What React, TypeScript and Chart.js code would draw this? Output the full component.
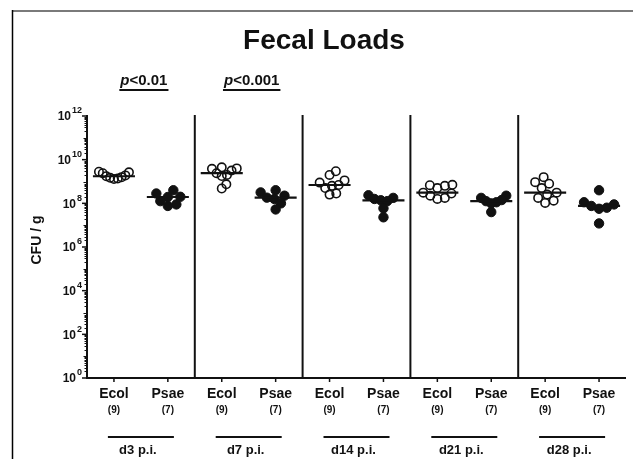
import React, { useEffect, useRef } from 'react';
import { Chart, registerables } from 'chart.js';

Chart.register(...registerables);

// ---------- data ----------
const days = ['d3 p.i.', 'd7 p.i.', 'd14 p.i.', 'd21 p.i.', 'd28 p.i.'];
const strains = ['Ecol', 'Psae'];
const strainN = ['(9)', '(7)'];
const yTickExponents = [0, 2, 4, 6, 8, 10, 12];

// log10(CFU / g) per animal
const ecolD3 = [9.45, 9.42, 9.38, 9.28, 9.24, 9.2, 9.17, 9.14, 9.12];
const ecolD7 = [9.65, 9.6, 9.58, 9.5, 9.38, 9.3, 9.25, 8.87, 8.68];
const ecolD14 = [9.47, 9.3, 9.05, 8.95, 8.84, 8.8, 8.7, 8.45, 8.4];
const ecolD21 = [8.85, 8.83, 8.8, 8.7, 8.49, 8.45, 8.35, 8.25, 8.2];
const ecolD28 = [9.2, 8.97, 8.9, 8.7, 8.49, 8.4, 8.25, 8.12, 8.02];

const psaeD3 = [8.6, 8.45, 8.3, 8.29, 8.1, 7.95, 7.88];
const psaeD7 = [8.6, 8.5, 8.35, 8.26, 8.2, 8.0, 7.72];
const psaeD14 = [8.37, 8.25, 8.2, 8.14, 8.1, 7.77, 7.36];
const psaeD21 = [8.35, 8.25, 8.15, 8.1, 8.05, 8.0, 7.6];
const psaeD28 = [8.6, 8.05, 7.95, 7.88, 7.8, 7.75, 7.08];

const ecolSeries = [ecolD3, ecolD7, ecolD14, ecolD21, ecolD28];
const psaeSeries = [psaeD3, psaeD7, psaeD14, psaeD21, psaeD28];

const pDays = [0, 1];
const pTexts = ['<0.01', '<0.001'];

// ---------- layout ----------
const W = 633;
const H = 459;
const PAD = { left: 87, right: 7, top: 116, bottom: 81 };
const PX_PER_CAT = (W - PAD.left - PAD.right) / 10;
const PX_PER_DEC = (H - PAD.top - PAD.bottom) / 12;
const FONT = '"Liberation Sans", Arial, Helvetica, sans-serif';
const INK = '#111111';

function median(a: number[]): number {
  const s = [...a].sort((x, y) => x - y);
  const m = Math.floor(s.length / 2);
  return s.length % 2 ? s[m] : (s[m - 1] + s[m]) / 2;
}

// simple beeswarm: horizontal offsets (in category units), squeezed to a maximum half-width
function swarmOffsets(vals: number[]): number[] {
  const minD = 8.5;
  const maxHalf = 15;
  const order = vals.map((_, i) => i).sort((a, b) => vals[a] - vals[b]);
  const placed: { x: number; y: number }[] = [];
  const px = new Array(vals.length).fill(0);
  for (const i of order) {
    const y = vals[i] * PX_PER_DEC;
    let x = 0;
    for (let k = 0; k < 400; k++) {
      const c = (k % 2 === 1 ? 1 : -1) * Math.ceil(k / 2) * 0.5;
      if (placed.every((p) => (p.x - c) ** 2 + (p.y - y) ** 2 >= minD * minD)) {
        x = c;
        break;
      }
    }
    placed.push({ x, y });
    px[i] = x;
  }
  const widest = Math.max(...px.map(Math.abs));
  const squeeze = widest > maxHalf ? maxHalf / widest : 1;
  return px.map((x) => (x * squeeze) / PX_PER_CAT);
}

function pointsFor(series: number[][], strainIdx: number) {
  const pts: { x: number; y: number }[] = [];
  series.forEach((vals, d) => {
    const offs = swarmOffsets(vals);
    const cx = d * 2 + strainIdx;
    vals.forEach((v, i) => pts.push({ x: cx + offs[i], y: Math.pow(10, v) }));
  });
  return pts;
}

const decorPlugin = {
  id: 'decor',
  beforeDraw(chart: any) {
    const ctx = chart.ctx;
    ctx.save();
    ctx.fillStyle = '#ffffff';
    ctx.fillRect(0, 0, chart.width, chart.height);
    ctx.restore();
  },
  afterDraw(chart: any) {
    const ctx: CanvasRenderingContext2D = chart.ctx;
    const xs = chart.scales.x;
    const ys = chart.scales.y;
    const top = ys.getPixelForValue(1e12);
    const bottom = ys.getPixelForValue(1);
    const left = xs.getPixelForValue(-0.5);
    const right = xs.getPixelForValue(9.5);
    ctx.save();

    // page frame
    ctx.strokeStyle = '#7a7a7a';
    ctx.lineWidth = 2;
    ctx.beginPath();
    ctx.moveTo(12, 11);
    ctx.lineTo(W, 11);
    ctx.stroke();
    ctx.strokeStyle = '#000';
    ctx.lineWidth = 1.5;
    ctx.beginPath();
    ctx.moveTo(12.5, 10);
    ctx.lineTo(12.5, H);
    ctx.stroke();

    ctx.fillStyle = INK;
    ctx.strokeStyle = INK;

    // title
    ctx.font = `bold 28px ${FONT}`;
    ctx.textAlign = 'center';
    ctx.textBaseline = 'middle';
    ctx.fillText('Fecal Loads', 324, 41);

    // p-values
    pDays.forEach((d, i) => {
      const cx = xs.getPixelForValue(d * 2 + 0.5) + 3;
      ctx.font = `italic bold 15px ${FONT}`;
      const pw = ctx.measureText('p').width;
      ctx.font = `bold 15px ${FONT}`;
      const rw = ctx.measureText(pTexts[i]).width;
      const x0 = cx - (pw + rw) / 2;
      ctx.textAlign = 'left';
      ctx.textBaseline = 'alphabetic';
      ctx.font = `italic bold 15px ${FONT}`;
      ctx.fillText('p', x0, 85);
      ctx.font = `bold 15px ${FONT}`;
      ctx.fillText(pTexts[i], x0 + pw, 85);
      ctx.lineWidth = 2;
      ctx.beginPath();
      ctx.moveTo(x0 - 1, 90);
      ctx.lineTo(x0 + pw + rw + 1, 90);
      ctx.stroke();
    });

    // y axis
    ctx.lineWidth = 2;
    ctx.beginPath();
    ctx.moveTo(left, top - 1);
    ctx.lineTo(left, bottom + 1);
    ctx.stroke();
    ctx.lineWidth = 1;
    for (let k = 0; k < 12; k++) {
      for (let m = 2; m <= 9; m++) {
        const y = Math.round(ys.getPixelForValue(m * Math.pow(10, k))) + 0.5;
        ctx.beginPath();
        ctx.moveTo(left - 2.5, y);
        ctx.lineTo(left, y);
        ctx.stroke();
      }
      if (k % 2 === 1) {
        const y = Math.round(ys.getPixelForValue(Math.pow(10, k))) + 0.5;
        ctx.beginPath();
        ctx.moveTo(left - 3.5, y);
        ctx.lineTo(left, y);
        ctx.stroke();
      }
    }
    ctx.lineWidth = 1.5;
    yTickExponents.forEach((e) => {
      const y = ys.getPixelForValue(Math.pow(10, e));
      ctx.beginPath();
      ctx.moveTo(left - 5, y);
      ctx.lineTo(left, y);
      ctx.stroke();
      const ex = String(e);
      ctx.font = `bold 9px ${FONT}`;
      const ew = ctx.measureText(ex).width;
      ctx.textAlign = 'right';
      ctx.textBaseline = 'middle';
      ctx.fillText(ex, left - 5, y - 5);
      ctx.font = `bold 12px ${FONT}`;
      ctx.fillText('10', left - 6 - ew, y + 1);
    });

    // y title
    ctx.save();
    ctx.translate(37, (top + bottom) / 2 - 7);
    ctx.rotate(-Math.PI / 2);
    ctx.font = `bold 14px ${FONT}`;
    ctx.textAlign = 'center';
    ctx.textBaseline = 'middle';
    ctx.fillText('CFU / g', 0, 0);
    ctx.restore();

    // x axis
    ctx.lineWidth = 2;
    ctx.beginPath();
    ctx.moveTo(left - 1, bottom);
    ctx.lineTo(right, bottom);
    ctx.stroke();

    // separators between days
    for (let d = 1; d < days.length; d++) {
      const x = xs.getPixelForValue(d * 2 - 0.5);
      ctx.beginPath();
      ctx.moveTo(x, top - 1);
      ctx.lineTo(x, bottom);
      ctx.stroke();
    }

    // category ticks and labels
    days.forEach((day, d) => {
      strains.forEach((s, si) => {
        const x = xs.getPixelForValue(d * 2 + si);
        ctx.lineWidth = 1.5;
        ctx.beginPath();
        ctx.moveTo(x, bottom);
        ctx.lineTo(x, bottom + 4);
        ctx.stroke();
        ctx.textAlign = 'center';
        ctx.textBaseline = 'middle';
        ctx.font = `bold 14px ${FONT}`;
        ctx.fillText(s, x, 394);
        ctx.font = `bold 10px ${FONT}`;
        ctx.fillText(strainN[si], x, 410);
      });
      const cx = xs.getPixelForValue(d * 2 + 0.5);
      ctx.lineWidth = 2;
      ctx.beginPath();
      ctx.moveTo(cx - 33, 437);
      ctx.lineTo(cx + 33, 437);
      ctx.stroke();
      ctx.font = `bold 13px ${FONT}`;
      ctx.textAlign = 'center';
      ctx.textBaseline = 'middle';
      ctx.fillText(day, cx - 3, 450);
    });

    ctx.restore();
  },
};

export default function App() {
  const ref = useRef<HTMLCanvasElement | null>(null);

  useEffect(() => {
    if (!ref.current) return;
    const medianSets: any[] = [];
    [ecolSeries, psaeSeries].forEach((series, si) => {
      series.forEach((vals, d) => {
        const m = Math.pow(10, median(vals));
        const cx = d * 2 + si;
        medianSets.push({
          type: 'line',
          data: [
            { x: cx - 0.39, y: m },
            { x: cx + 0.39, y: m },
          ],
          borderColor: INK,
          borderWidth: 2.2,
          pointRadius: 0,
          showLine: true,
          fill: false,
          order: 1,
        });
      });
    });

    const chart = new Chart(ref.current, {
      type: 'scatter',
      data: {
        datasets: [
          {
            label: 'Ecol',
            data: pointsFor(ecolSeries, 0),
            pointRadius: 4.2,
            pointBorderWidth: 1.6,
            borderColor: INK,
            backgroundColor: 'rgba(255,255,255,0)',
            order: 2,
          },
          {
            label: 'Psae',
            data: pointsFor(psaeSeries, 1),
            pointRadius: 4.7,
            pointBorderWidth: 1,
            borderColor: INK,
            backgroundColor: INK,
            order: 2,
          },
          ...medianSets,
        ],
      } as any,
      options: {
        animation: false,
        responsive: false,
        events: [],
        layout: { padding: PAD },
        plugins: { legend: { display: false }, tooltip: { enabled: false } },
        scales: {
          x: { type: 'linear', min: -0.5, max: 9.5, display: false },
          y: { type: 'logarithmic', min: 1, max: 1e12, display: false },
        },
      } as any,
      plugins: [decorPlugin],
    });
    return () => chart.destroy();
  }, []);

  return (
    <div style={{ position: 'fixed', left: 0, top: 0, width: W, height: H, background: '#fff' }}>
      <canvas ref={ref} width={W} height={H} style={{ display: 'block', width: W, height: H }} />
    </div>
  );
}
